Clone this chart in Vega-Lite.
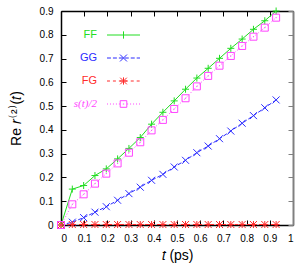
{
  "$schema": "https://vega.github.io/schema/vega-lite/v6.json",
  "width": 232,
  "height": 214,
  "autosize": {"type": "none"},
  "padding": {"left": 61, "top": 11, "right": 7, "bottom": 47},
  "background": "white",
  "config": {
    "view": {"stroke": null},
    "font": "Liberation Sans",
    "axis": {
      "grid": false,
      "labelFont": "Liberation Sans",
      "labelFontSize": 10,
      "labelColor": "#000",
      "tickColor": "#000",
      "domainColor": "#000",
      "domainWidth": 1.5,
      "tickWidth": 1,
      "titleFont": "Liberation Sans",
      "titleFontWeight": "normal",
      "titleColor": "#000"
    }
  },
  "data": {
    "values": [
      {"s": "FF", "t": 0, "v": 0}, {"s": "FF", "t": 0.0488, "v": 0.151}, {"s": "FF", "t": 0.0976, "v": 0.166}, {"s": "FF", "t": 0.1464, "v": 0.208}, {"s": "FF", "t": 0.1952, "v": 0.236},
      {"s": "FF", "t": 0.244, "v": 0.278}, {"s": "FF", "t": 0.2928, "v": 0.322}, {"s": "FF", "t": 0.3416, "v": 0.368}, {"s": "FF", "t": 0.3904, "v": 0.424}, {"s": "FF", "t": 0.4392, "v": 0.474},
      {"s": "FF", "t": 0.488, "v": 0.522}, {"s": "FF", "t": 0.5368, "v": 0.571}, {"s": "FF", "t": 0.5856, "v": 0.618}, {"s": "FF", "t": 0.6344, "v": 0.659}, {"s": "FF", "t": 0.6832, "v": 0.701},
      {"s": "FF", "t": 0.732, "v": 0.743}, {"s": "FF", "t": 0.7808, "v": 0.782}, {"s": "FF", "t": 0.8296, "v": 0.823}, {"s": "FF", "t": 0.8784, "v": 0.859}, {"s": "FF", "t": 0.9272, "v": 0.9},
      {"s": "GG", "t": 0, "v": 0}, {"s": "GG", "t": 0.0488, "v": 0.012}, {"s": "GG", "t": 0.0976, "v": 0.031}, {"s": "GG", "t": 0.1464, "v": 0.054}, {"s": "GG", "t": 0.1952, "v": 0.077},
      {"s": "GG", "t": 0.244, "v": 0.104}, {"s": "GG", "t": 0.2928, "v": 0.132}, {"s": "GG", "t": 0.3416, "v": 0.159}, {"s": "GG", "t": 0.3904, "v": 0.188}, {"s": "GG", "t": 0.4392, "v": 0.213},
      {"s": "GG", "t": 0.488, "v": 0.244}, {"s": "GG", "t": 0.5368, "v": 0.272}, {"s": "GG", "t": 0.5856, "v": 0.304}, {"s": "GG", "t": 0.6344, "v": 0.332}, {"s": "GG", "t": 0.6832, "v": 0.363},
      {"s": "GG", "t": 0.732, "v": 0.395}, {"s": "GG", "t": 0.7808, "v": 0.428}, {"s": "GG", "t": 0.8296, "v": 0.46}, {"s": "GG", "t": 0.8784, "v": 0.493}, {"s": "GG", "t": 0.9272, "v": 0.526},
      {"s": "FG", "t": 0, "v": 0}, {"s": "FG", "t": 0.0488, "v": 0.002}, {"s": "FG", "t": 0.0976, "v": 0.002}, {"s": "FG", "t": 0.1464, "v": 0.002}, {"s": "FG", "t": 0.1952, "v": 0.002},
      {"s": "FG", "t": 0.244, "v": 0.002}, {"s": "FG", "t": 0.2928, "v": 0.002}, {"s": "FG", "t": 0.3416, "v": 0.002}, {"s": "FG", "t": 0.3904, "v": 0.002}, {"s": "FG", "t": 0.4392, "v": 0.002},
      {"s": "FG", "t": 0.488, "v": 0.002}, {"s": "FG", "t": 0.5368, "v": 0.002}, {"s": "FG", "t": 0.5856, "v": 0.002}, {"s": "FG", "t": 0.6344, "v": 0.002}, {"s": "FG", "t": 0.6832, "v": 0.002},
      {"s": "FG", "t": 0.732, "v": 0.002}, {"s": "FG", "t": 0.7808, "v": 0.002}, {"s": "FG", "t": 0.8296, "v": 0.002}, {"s": "FG", "t": 0.8784, "v": 0.002}, {"s": "FG", "t": 0.9272, "v": 0.002},
      {"s": "s(t)/2", "t": 0, "v": 0}, {"s": "s(t)/2", "t": 0.0488, "v": 0.087}, {"s": "s(t)/2", "t": 0.0976, "v": 0.129}, {"s": "s(t)/2", "t": 0.1464, "v": 0.174}, {"s": "s(t)/2", "t": 0.1952, "v": 0.216},
      {"s": "s(t)/2", "t": 0.244, "v": 0.259}, {"s": "s(t)/2", "t": 0.2928, "v": 0.304}, {"s": "s(t)/2", "t": 0.3416, "v": 0.348}, {"s": "s(t)/2", "t": 0.3904, "v": 0.398}, {"s": "s(t)/2", "t": 0.4392, "v": 0.442},
      {"s": "s(t)/2", "t": 0.488, "v": 0.488}, {"s": "s(t)/2", "t": 0.5368, "v": 0.533}, {"s": "s(t)/2", "t": 0.5856, "v": 0.583}, {"s": "s(t)/2", "t": 0.6344, "v": 0.627}, {"s": "s(t)/2", "t": 0.6832, "v": 0.67},
      {"s": "s(t)/2", "t": 0.732, "v": 0.711}, {"s": "s(t)/2", "t": 0.7808, "v": 0.753}, {"s": "s(t)/2", "t": 0.8296, "v": 0.792}, {"s": "s(t)/2", "t": 0.8784, "v": 0.83}, {"s": "s(t)/2", "t": 0.9272, "v": 0.872}
    ]
  },
  "layer": [
    {
      "transform": [{"filter": "datum.s === 'FF'"}],
      "mark": {"type": "line", "strokeWidth": 1},
      "encoding": {
        "x": {
          "field": "t", "type": "quantitative",
          "scale": {"domain": [0, 1], "nice": false, "zero": false},
          "axis": {
            "orient": "bottom",
            "values": [0, 0.1, 0.2, 0.3, 0.4, 0.5, 0.6, 0.7, 0.8, 0.9, 1],
            "format": ".1~f",
            "tickSize": -5,
            "labelPadding": 13,
            "title": "𝑡 (ps)",
            "titleFontSize": 14,
            "titlePadding": 5
          }
        },
        "y": {
          "field": "v", "type": "quantitative",
          "scale": {"domain": [0, 0.9], "nice": false},
          "axis": {
            "orient": "left",
            "values": [0, 0.1, 0.2, 0.3, 0.4, 0.5, 0.6, 0.7, 0.8, 0.9],
            "format": ".1~f",
            "tickSize": -5,
            "labelPadding": 13,
            "title": "Re 𝑟⁽²⁾(𝑡)",
            "titleFontSize": 14,
            "titlePadding": 16
          }
        },
        "color": {
          "field": "s", "type": "nominal",
          "scale": {"domain": ["FF", "GG", "FG", "s(t)/2"], "range": ["#22dd22", "#2b2bff", "#ff2b2b", "#ff44ff"]},
          "legend": {
            "orient": "none",
            "legendX": 0,
            "legendY": 7,
            "title": null,
            "padding": 0,
            "symbolSize": 16,
            "symbolStrokeWidth": 1,
            "labelFontSize": 11,
            "rowPadding": -11.5,
            "encode": {
              "symbols": {
                "update": {
                  "x": {"value": 62.5},
                  "size": {"value": 1089},
                  "fill": {"value": "transparent"},
                  "strokeDash": {"value": []},
                  "shape": {"signal": "datum.value === 'FF' ? 'M-1,0H1M0,-0.22V0.22' : datum.value === 'GG' ? 'M-1,0H-0.76M-0.64,0H-0.4M-0.28,0H-0.04M0.08,0H0.32M0.44,0H0.68M0.8,0H1M-0.21,-0.21L0.21,0.21M-0.21,0.21L0.21,-0.21' : datum.value === 'FG' ? 'M-1,0H-0.82M-0.64,0H-0.46M-0.28,0H-0.1M0.08,0H0.26M0.44,0H0.62M0.8,0H0.98M-0.2,-0.2L0.2,0.2M-0.2,0.2L0.2,-0.2M0,-0.22V0.22M-0.22,0H0.22' : 'M-1,0H-0.94M-0.82,0H-0.76M-0.64,0H-0.58M-0.46,0H-0.4M-0.28,0H-0.22M0.22,0H0.28M0.4,0H0.46M0.58,0H0.64M0.76,0H0.82M0.94,0H1M-0.2,-0.2H0.2V0.2H-0.2ZM-0.04,0H0.04'"}
                }
              },
              "labels": {
                "update": {
                  "x": {"value": 36},
                  "align": {"value": "right"},
                  "fill": {"scale": "color", "field": "value"},
                  "font": {"signal": "datum.value === 's(t)/2' ? 'Liberation Serif' : 'Liberation Sans'"},
                  "fontStyle": {"signal": "datum.value === 's(t)/2' ? 'italic' : 'normal'"}
                }
              }
            }
          }
        }
      }
    },
    {
      "transform": [{"filter": "datum.s === 'GG'"}],
      "mark": {"type": "line", "strokeWidth": 1, "strokeDash": [4, 2]},
      "encoding": {
        "x": {"field": "t", "type": "quantitative", "axis": null},
        "y": {"field": "v", "type": "quantitative", "axis": null},
        "color": {"field": "s", "type": "nominal", "legend": null}
      }
    },
    {
      "transform": [{"filter": "datum.s === 'FG'"}],
      "mark": {"type": "line", "strokeWidth": 1, "strokeDash": [3, 3]},
      "encoding": {
        "x": {"field": "t", "type": "quantitative", "axis": null},
        "y": {"field": "v", "type": "quantitative", "axis": null},
        "color": {"field": "s", "type": "nominal", "legend": null}
      }
    },
    {
      "transform": [{"filter": "datum.s === 's(t)/2'"}],
      "mark": {"type": "line", "strokeWidth": 1, "strokeDash": [1, 2]},
      "encoding": {
        "x": {"field": "t", "type": "quantitative", "axis": null},
        "y": {"field": "v", "type": "quantitative", "axis": null},
        "color": {"field": "s", "type": "nominal", "legend": null}
      }
    },
    {
      "transform": [{"filter": "datum.s === 'FF'"}],
      "mark": {"type": "point", "filled": false, "strokeWidth": 1, "size": 49, "opacity": 1, "shape": "M-1,0H1M0,-1V1"},
      "encoding": {
        "x": {
          "field": "t", "type": "quantitative",
          "axis": {"orient": "top", "values": [0, 0.1, 0.2, 0.3, 0.4, 0.5, 0.6, 0.7, 0.8, 0.9, 1], "labels": false, "tickSize": -5, "title": null}
        },
        "y": {
          "field": "v", "type": "quantitative",
          "axis": {"orient": "right", "values": [0, 0.1, 0.2, 0.3, 0.4, 0.5, 0.6, 0.7, 0.8, 0.9], "labels": false, "tickSize": -5, "title": null, "domainColor": "#808080", "tickColor": "#808080", "domainWidth": 2}
        },
        "color": {"field": "s", "type": "nominal", "legend": null}
      }
    },
    {
      "transform": [{"filter": "datum.s === 'GG'"}],
      "mark": {"type": "point", "filled": false, "strokeWidth": 1, "size": 49, "opacity": 1, "shape": "M-1,-1L1,1M-1,1L1,-1"},
      "encoding": {
        "x": {"field": "t", "type": "quantitative", "axis": null},
        "y": {"field": "v", "type": "quantitative", "axis": null},
        "color": {"field": "s", "type": "nominal", "legend": null}
      }
    },
    {
      "transform": [{"filter": "datum.s === 'FG'"}],
      "mark": {"type": "point", "filled": false, "strokeWidth": 1, "size": 49, "opacity": 1, "shape": "M-1,-1L1,1M-1,1L1,-1M0,-1V1M-1,0H1"},
      "encoding": {
        "x": {"field": "t", "type": "quantitative", "axis": null},
        "y": {"field": "v", "type": "quantitative", "axis": null},
        "color": {"field": "s", "type": "nominal", "legend": null}
      }
    },
    {
      "transform": [{"filter": "datum.s === 's(t)/2'"}],
      "mark": {"type": "point", "filled": false, "strokeWidth": 1, "size": 49, "opacity": 1, "shape": "M-1,-1H1V1H-1ZM-0.15,0H0.15"},
      "encoding": {
        "x": {"field": "t", "type": "quantitative", "axis": null},
        "y": {"field": "v", "type": "quantitative", "axis": null},
        "color": {"field": "s", "type": "nominal", "legend": null}
      }
    }
  ]
}
